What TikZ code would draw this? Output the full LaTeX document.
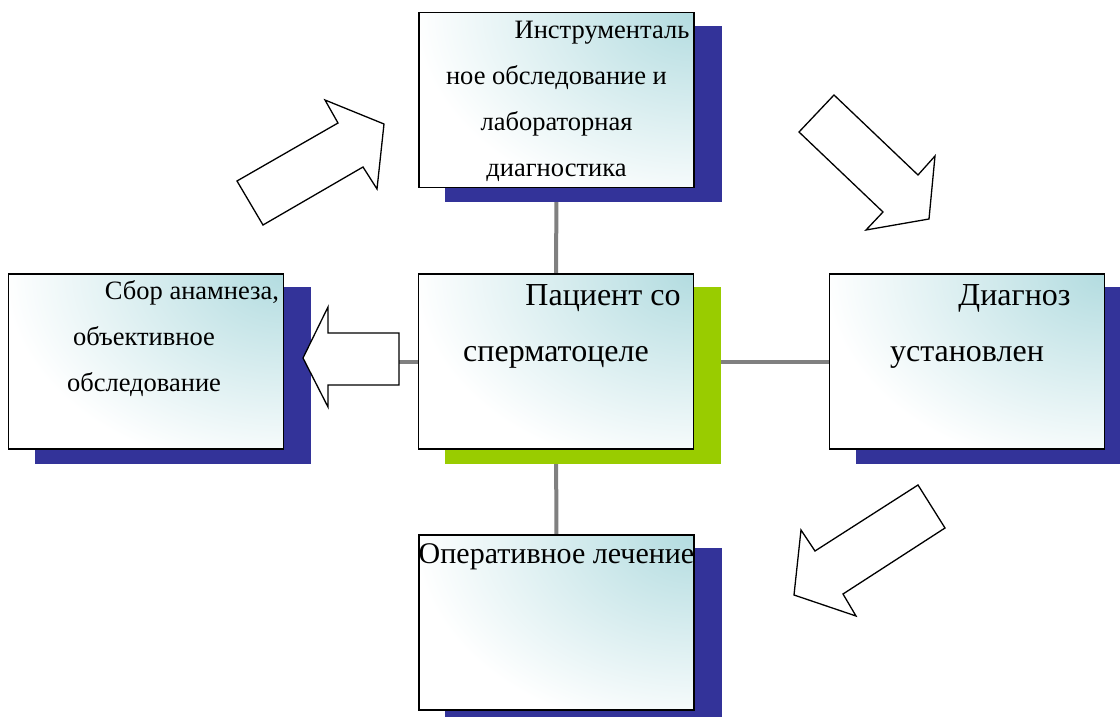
\documentclass[tikz,border=0pt]{standalone}
\usepackage{fontspec}
\setmainfont{Liberation Serif}
\definecolor{shblue}{HTML}{333399}
\definecolor{shgreen}{HTML}{99CC00}
\definecolor{boxteal}{HTML}{B3DCE0}
\definecolor{conngray}{HTML}{808080}
\pgfdeclarelayer{connlayer}
\pgfdeclarelayer{shadowlayer}
\pgfsetlayers{connlayer,shadowlayer,main}
\tikzset{
  box/.style={draw=black, line width=1.6pt, inner sep=0pt, minimum width=275pt, minimum height=175pt,
    fill=white,
    path picture={\shade[inner color=boxteal, outer color=white]
      (path picture bounding box.north east) ellipse [x radius=280pt, y radius=200pt];}},
  conn/.style={draw=conngray, line width=4pt},
  blockarrow/.style={draw=black, fill=white, line width=1.3pt, line join=miter},
  smalltxt/.style={anchor=base, inner sep=0pt, font=\fontsize{26.5}{46}\selectfont},
  bigtxt/.style={anchor=base, inner sep=0pt, font=\fontsize{32}{56}\selectfont},
  midtxt/.style={anchor=base, inner sep=0pt, font=\fontsize{30}{50}\selectfont},
}
\newcommand{\shadowbox}[2]{\fill[#2] ([xshift=27pt,yshift=-14pt]#1.south west) rectangle ([xshift=27pt,yshift=-14pt]#1.north east);}
\begin{document}
\begin{tikzpicture}[x=1pt,y=-1pt]
\useasboundingbox (0,0) rectangle (1120,717);
% boxes
\node[box] (instr) at (556.5,100) {};
\node[box] (sbor) at (146,361.5) {};
\node[box] (pat) at (556,361.5) {};
\node[box] (diag) at (967,361.5) {};
\node[box] (oper) at (556.5,622.5) {};
% texts
\node[smalltxt] (tinstr) at (556.5,39) {\parbox[t]{400pt}{\centering\hspace*{91pt}Инструменталь\\ное обследование и\\лабораторная\\диагностика}};
\node[smalltxt] (tsbor) at (144,299) {\parbox[t]{400pt}{\centering\hspace*{96pt}Сбор анамнеза,\\объективное\\обследование}};
\node[bigtxt] (tpat) at (556,305) {\parbox[t]{400pt}{\centering\hspace*{94pt}Пациент со\\сперматоцеле}};
\node[bigtxt] (tdiag) at (967,305) {\parbox[t]{400pt}{\centering\hspace*{95pt}Диагноз\\установлен}};
\node[midtxt] (toper) at (556.5,563) {\parbox[t]{400pt}{\centering Оперативное лечение}};
% shadows
\begin{pgfonlayer}{shadowlayer}
\shadowbox{instr}{shblue}
\shadowbox{sbor}{shblue}
\shadowbox{pat}{shgreen}
\shadowbox{diag}{shblue}
\shadowbox{oper}{shblue}
\end{pgfonlayer}
% connectors
\begin{pgfonlayer}{connlayer}
\draw[conn] (pat) -- (instr);
\draw[conn] (pat) -- (sbor);
\draw[conn] (pat) -- (diag);
\draw[conn] (pat) -- (oper);
\end{pgfonlayer}
% block arrows
\draw[blockarrow] (303,358) -- (328,307) -- (328,333) -- (399,333) -- (399,385) -- (328,385) -- (328,407) -- cycle;
\draw[blockarrow] (237,181) -- (338,123) -- (325,100) -- (384,124) -- (377,189) -- (363,167) -- (263,225) -- cycle;
\draw[blockarrow] (834,95) -- (918,175) -- (935,156) -- (929,219) -- (866,230) -- (883,212) -- (799,132) -- cycle;
\draw[blockarrow] (918,485) -- (945,528) -- (843,594) -- (856,616) -- (794,595) -- (801,530) -- (815,551) -- cycle;
\end{tikzpicture}
\end{document}
